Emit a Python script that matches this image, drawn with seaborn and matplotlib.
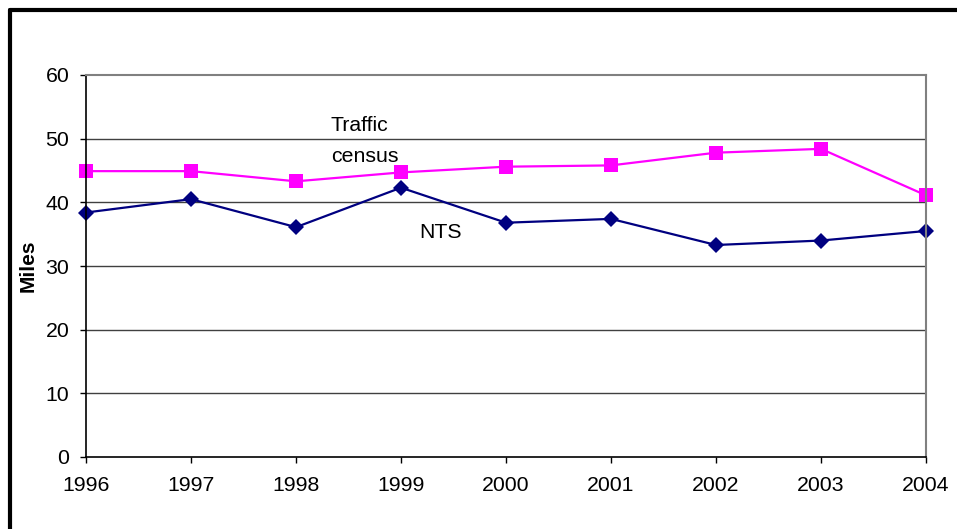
import matplotlib
matplotlib.use("Agg")
import matplotlib.pyplot as plt
import seaborn as sns
import pandas as pd
from matplotlib.lines import Line2D

years = [1996, 1997, 1998, 1999, 2000, 2001, 2002, 2003, 2004]
traffic_census = [44.9, 44.9, 43.3, 44.7, 45.6, 45.8, 47.8, 48.4, 41.1]
nts = [38.4, 40.5, 36.1, 42.3, 36.8, 37.4, 33.3, 34.0, 35.5]
y_ticks = [0, 10, 20, 30, 40, 50, 60]

sns.set_style("white")
plt.rcParams['font.family'] = ['Liberation Sans', 'DejaVu Sans']

FS = 15.3

fig = plt.figure(figsize=(9.57, 5.29), dpi=100)
ax = fig.add_axes([86/957, 1-457/529, (926-86)/957, (457-75)/529])

df_tc = pd.DataFrame({"year": years, "miles": traffic_census})
df_nts = pd.DataFrame({"year": years, "miles": nts})

sns.lineplot(data=df_tc, x="year", y="miles", ax=ax, color="#FF00FF",
             marker="s", markersize=10, markeredgewidth=0, linewidth=1.6, clip_on=False)
sns.lineplot(data=df_nts, x="year", y="miles", ax=ax, color="#000080",
             marker="D", markersize=8, markeredgewidth=0, linewidth=1.6, clip_on=False)

ax.set_xlim(years[0], years[-1])
ax.set_ylim(0, 60)
ax.set_xticks(years)
ax.set_xticklabels([str(y) for y in years])
ax.set_yticks(y_ticks)
for v in y_ticks[1:-1]:
    ax.axhline(v, color="#404040", linewidth=1, zorder=0)

for side in ["top", "right"]:
    ax.spines[side].set_color("#808080")
    ax.spines[side].set_linewidth(1.5)
for side in ["left", "bottom"]:
    ax.spines[side].set_color("black")
    ax.spines[side].set_linewidth(1.2)

ax.tick_params(axis="both", direction="out", length=4.5, width=1, color="black",
               labelsize=FS, labelcolor="black", bottom=True, left=True)
ax.tick_params(axis="x", pad=9)
ax.tick_params(axis="y", pad=7.5)
ax.set_xlabel("")
ax.set_ylabel("Miles", fontsize=15, fontweight="bold", labelpad=6, color="black")

ax.text(1998.33, 51.2, "Traffic", fontsize=FS, ha="left", va="baseline", color="black")
ax.text(1998.33, 46.3, "census", fontsize=FS, ha="left", va="baseline", color="black")
ax.text(1999.17, 34.4, "NTS", fontsize=FS, ha="left", va="baseline", color="black")

# outer chart border (left and top visible)
fig.add_artist(Line2D([10/957, 10/957], [0, 1-10/529], color="black", linewidth=3,
                      transform=fig.transFigure))
fig.add_artist(Line2D([10/957, 1], [1-10/529, 1-10/529], color="black", linewidth=3,
                      transform=fig.transFigure))

fig.savefig("out.png", dpi=100)
